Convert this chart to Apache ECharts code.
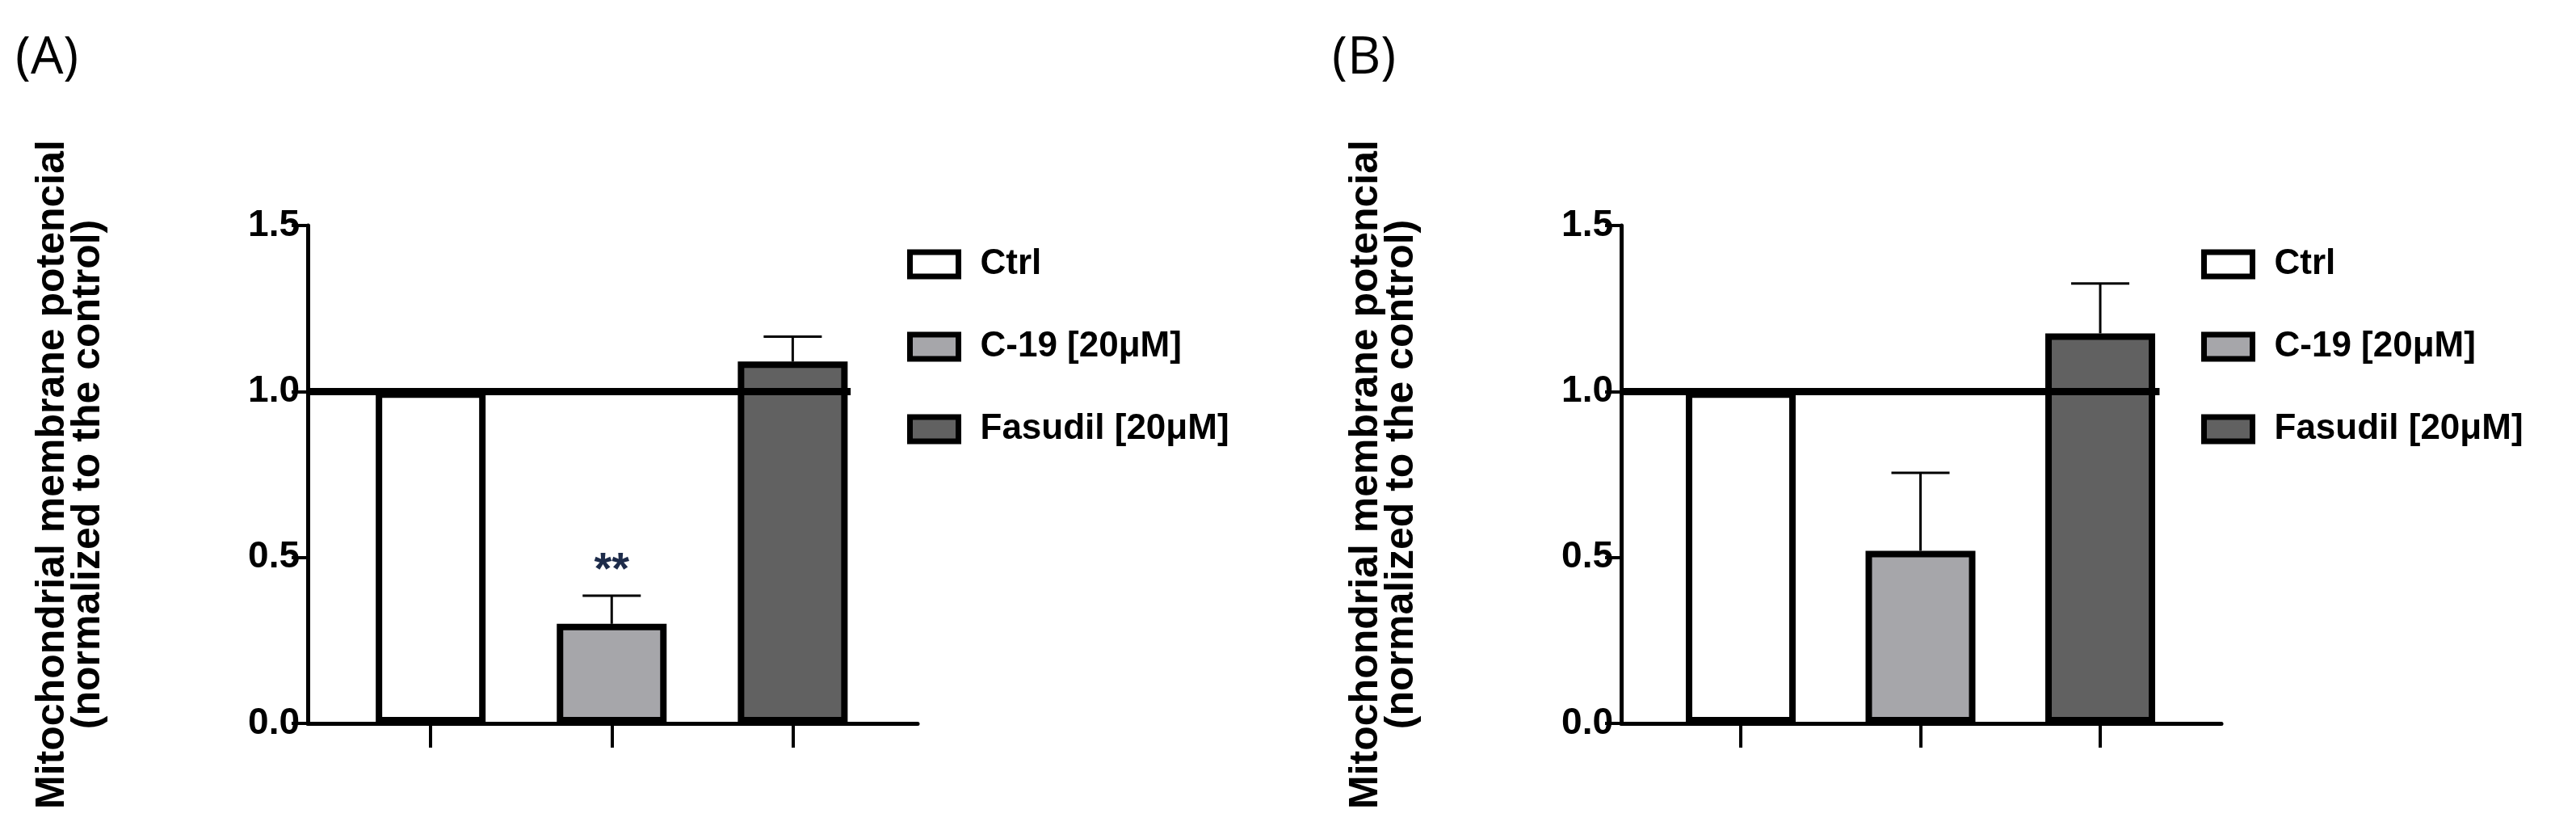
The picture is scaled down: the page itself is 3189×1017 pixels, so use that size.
<!DOCTYPE html>
<html>
<head>
<meta charset="utf-8">
<script src="https://cdn.jsdelivr.net/npm/echarts@6/dist/echarts.min.js"></script>
<style>html,body{margin:0;padding:0;background:#fff}#main{width:3189px;height:1017px}</style>
</head>
<body>
<div id="main"></div>
<script>
// data
var groups = ['Ctrl', 'C-19 [20\u03bcM]', 'Fasudil [20\u03bcM]'];
var positions = [1, 2, 3];
var meanA = [1.0, 0.30, 1.09];
var errA = [0, 0.385, 1.165];
var meanB = [1.0, 0.52, 1.175];
var errB = [0, 0.755, 1.325];
var yTicks = [0, 0.5, 1.0, 1.5];
var colors = ['#ffffff', '#a6a6aa', '#616161'];

var myChart = echarts.init(document.getElementById('main'));
var tickFont = 'Liberation Sans';

function panelAxes(idx, xmin, xmax) {
  return {
    x: {
      type: 'value', gridIndex: idx, min: xmin, max: xmax,
      axisLine: { lineStyle: { color: '#000', width: 5 } },
      axisTick: { customValues: positions, length: 30, lineStyle: { color: '#000', width: 4 } },
      axisLabel: { show: false }, splitLine: { show: false }
    },
    y: {
      type: 'value', gridIndex: idx, min: 0, max: 1.5, interval: 0.5,
      axisLine: { show: true, lineStyle: { color: '#000', width: 5 } },
      axisTick: { show: true, length: 20, lineStyle: { color: '#000', width: 4 } },
      axisLabel: { color: '#000', fontFamily: tickFont, fontWeight: 'bold', fontSize: 46, margin: 10,
        formatter: function (v) { return v.toFixed(1); } },
      splitLine: { show: false },
      name: 'Mitochondrial membrane potencial\n(normalized to the control)',
      nameLocation: 'middle', nameRotate: 90, nameGap: 250,
      nameTextStyle: { color: '#000', fontFamily: 'Liberation Sans', fontWeight: 'bold', fontSize: 50, lineHeight: 44 }
    }
  };
}

function panelSeries(idx, mean, err, refEnd, xmin, star) {
  var out = [];
  groups.forEach(function (g, i) {
    out.push({
      name: g, type: 'bar', xAxisIndex: idx, yAxisIndex: idx, stack: 'p' + idx,
      barWidth: 136, data: [[positions[i], mean[i]]],
      itemStyle: { color: colors[i], borderColor: '#000', borderWidth: 8 }
    });
  });
  out.push({
    type: 'custom', xAxisIndex: idx, yAxisIndex: idx, z: 1,
    data: positions.map(function (p, i) { return [p, mean[i], err[i]]; }),
    renderItem: function (params, api) {
      if (api.value(2) <= api.value(1)) return;
      var base = api.coord([api.value(0), api.value(1)]);
      var top = api.coord([api.value(0), api.value(2)]);
      var st = { stroke: '#000', lineWidth: 3 };
      return { type: 'group', children: [
        { type: 'line', shape: { x1: base[0], y1: base[1], x2: top[0], y2: top[1] }, style: st },
        { type: 'line', shape: { x1: top[0] - 36, y1: top[1], x2: top[0] + 36, y2: top[1] }, style: st }
      ] };
    }
  });
  out.push({
    type: 'line', xAxisIndex: idx, yAxisIndex: idx, data: [], z: 5,
    markLine: {
      silent: true, symbol: 'none', label: { show: false },
      lineStyle: { color: '#000', width: 9, type: 'solid' },
      data: [[{ coord: [xmin, 1.0] }, { coord: [refEnd, 1.0] }]]
    },
    markPoint: star ? {
      symbol: 'circle', symbolSize: 1, itemStyle: { color: 'transparent' },
      label: { show: true, formatter: '**', color: '#1d2b4a', fontSize: 56, fontWeight: 'bold',
        fontFamily: 'Liberation Sans', offset: [0, -30] },
      data: [{ coord: [2, err[1]] }]
    } : undefined
  });
  return out;
}

var aAx = panelAxes(0, 0.321, 3.69);
var bAx = panelAxes(1, 0.335, 3.674);

function legendAt(left) {
  return {
    data: groups, left: left, top: 300, orient: 'vertical', itemGap: 58,
    itemWidth: 60, itemHeight: 30, icon: 'rect', selectedMode: false,
    textStyle: { color: '#000', fontFamily: tickFont, fontWeight: 'bold', fontSize: 44, padding: [0, 0, 0, 22] },
    itemStyle: { borderColor: '#000', borderWidth: 7 }
  };
}

var option = {
  animation: false,
  backgroundColor: '#fff',
  title: [
    { text: '(A)', left: 14, top: 36, textStyle: { fontFamily: 'Open Sans', fontWeight: 'normal', fontSize: 64, color: '#000' } },
    { text: '(B)', left: 1644, top: 36, textStyle: { fontFamily: 'Open Sans', fontWeight: 'normal', fontSize: 64, color: '#000' } }
  ],
  legend: [legendAt(1118), legendAt(2720)],
  grid: [
    { left: 381, width: 755, top: 279, bottom: 122 },
    { left: 2007, width: 743, top: 279, bottom: 122 }
  ],
  xAxis: [aAx.x, bAx.x],
  yAxis: [aAx.y, bAx.y],
  series: panelSeries(0, meanA, errA, 3.32, 0.321, true)
    .concat(panelSeries(1, meanB, errB, 3.33, 0.335, false))
};
myChart.setOption(option);
</script>
</body>
</html>
